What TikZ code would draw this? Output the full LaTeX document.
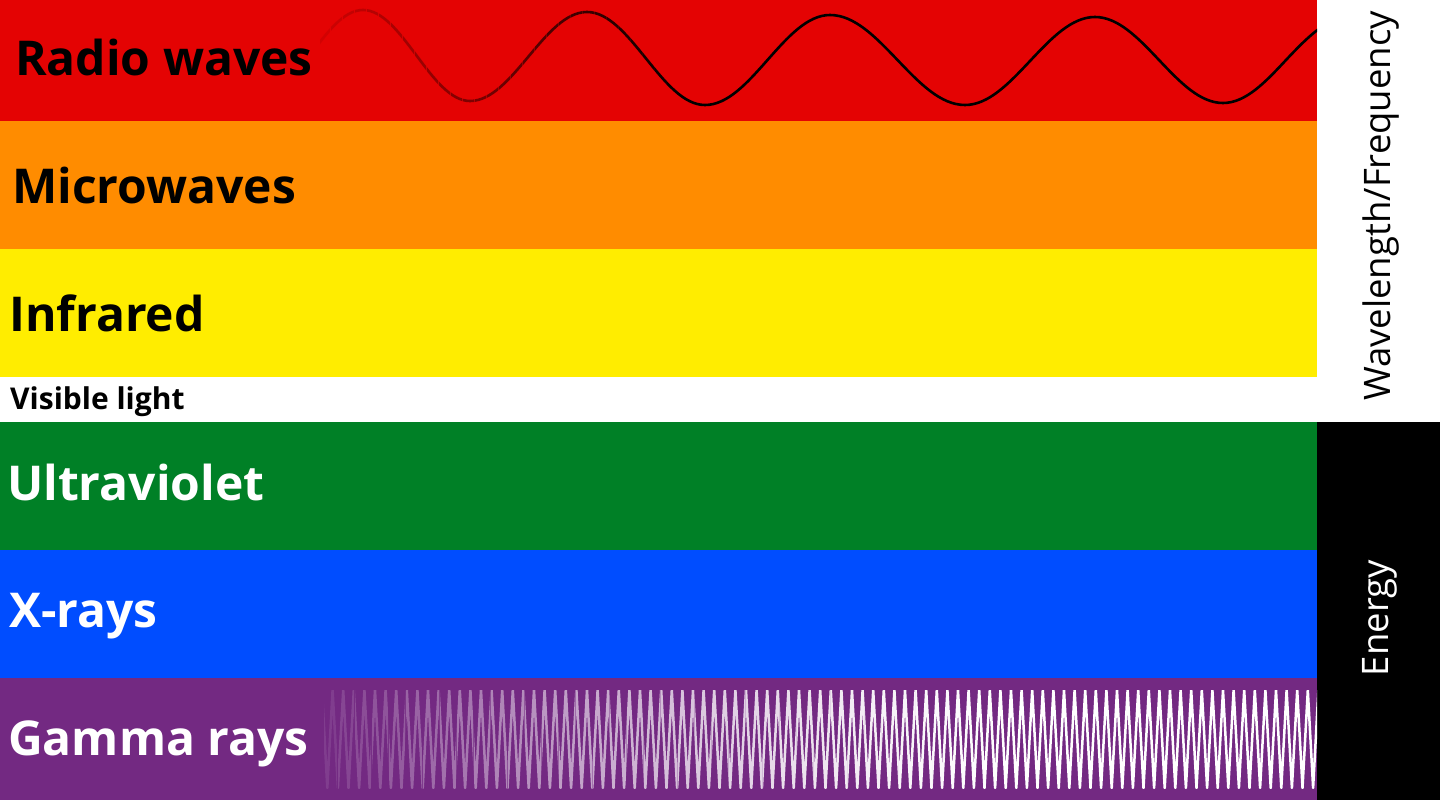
\documentclass[tikz,border=0pt]{standalone}
\usepackage{fontspec}
\setmainfont{Open Sans}
\definecolor{cred}{HTML}{E40303}
\definecolor{corange}{HTML}{FF8C00}
\definecolor{cyellow}{HTML}{FFED00}
\definecolor{cgreen}{HTML}{008026}
\definecolor{cblue}{HTML}{004DFF}
\definecolor{cpurple}{HTML}{732982}
\tikzset{
  bandlabel/.style={anchor=base west, inner sep=0pt, font=\bfseries\fontsize{48}{48}\selectfont},
  sidelabel/.style={rotate=90, inner sep=0pt, font=\fontsize{36.5}{36.5}\selectfont},
}
\begin{document}
\begin{tikzpicture}[x=1pt,y=-1pt]
\useasboundingbox (0,0) rectangle (1440,800);
\fill[white] (0,0) rectangle (1440,800);
% bands
\fill[cred] (0,0) rectangle (1317,121);
\fill[corange] (0,121) rectangle (1317,249);
\fill[cyellow] (0,249) rectangle (1317,377);
\fill[cgreen] (0,422) rectangle (1317,550);
\fill[cblue] (0,550) rectangle (1317,678);
\fill[cpurple] (0,678) rectangle (1317,800);
\fill[black] (1317,422) rectangle (1440,800);
% radio wave
\begin{scope}
\clip (320,0) rectangle (1317,121);
\draw[black, line width=2.6pt] (256,101) cos (309.5,56) sin (363,10) cos (416.5,55.5) sin (470,101) cos (528.5,56.5) sin (587,12) cos (646,58.5) sin (705,105) cos (767.5,60) sin (830,15) cos (897.5,60) sin (965,105) cos (1030,61) sin (1095,17) cos (1159,60) sin (1223,103) cos (1286,60) sin (1350,17);
\foreach \i in {0,...,29}{
  \fill[cred, opacity={0.92*(1-\i/30)}] ({318+\i*12},0) rectangle ({330.5+\i*12},121);
}
\end{scope}
% gamma wave
\begin{scope}
\clip (324,690) rectangle (1317,788);
\draw[white, line width=2.5pt, line join=round] (322,690)
  \foreach \i [evaluate=\i as \yy using {690+98*mod(\i,2)}] in {1,...,190}{ -- ({322+5.3*\i},\yy) };
\foreach \i in {0,...,39}{
  \fill[cpurple, opacity={0.9*(1-\i/40)^1.6}] ({320+\i*17},678) rectangle ({337.5+\i*17},800);
}
\end{scope}
% labels
\node[bandlabel, text=black] (radio) at (15,75) {Radio waves};
\node[bandlabel, text=black] (micro) at (12,203) {Microwaves};
\node[bandlabel, text=black] (ir) at (9,331) {Infrared};
\node[anchor=base west, inner sep=0pt, font=\bfseries\fontsize{30}{30}\selectfont] (vis) at (10,409) {Visible light};
\node[bandlabel, text=white] (uv) at (7,500) {Ultraviolet};
\node[bandlabel, text=white] (xray) at (9,627) {X-rays};
\node[bandlabel, text=white] (gamma) at (8,755) {Gamma rays};
\node[sidelabel, anchor=base, text=black] (wave) at (1390,206) {Wavelength/Frequency};
\node[sidelabel, anchor=base, text=white] (energy) at (1388,618) {Energy};
\end{tikzpicture}
\end{document}
